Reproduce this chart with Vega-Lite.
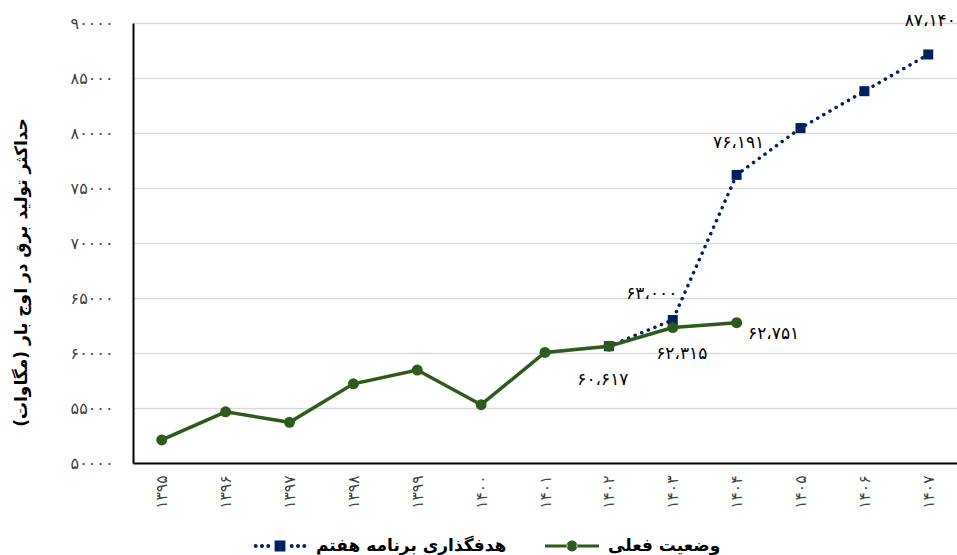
{
  "$schema": "https://vega.github.io/schema/vega-lite/v6.json",
  "width": 824,
  "height": 440,
  "autosize": {"type": "none"},
  "padding": {"left": 133, "top": 23, "right": 0, "bottom": 92},
  "config": {"font": "DejaVu Sans", "view": {"stroke": null}},
  "data": {
    "values": [
      {"year": "۱۳۹۵", "series": "وضعیت فعلی", "value": 52100, "label": ""},
      {"year": "۱۳۹۶", "series": "وضعیت فعلی", "value": 54650, "label": ""},
      {"year": "۱۳۹۷", "series": "وضعیت فعلی", "value": 53700, "label": ""},
      {"year": "۱۳۹۸", "series": "وضعیت فعلی", "value": 57200, "label": ""},
      {"year": "۱۳۹۹", "series": "وضعیت فعلی", "value": 58450, "label": ""},
      {"year": "۱۴۰۰", "series": "وضعیت فعلی", "value": 55300, "label": ""},
      {"year": "۱۴۰۱", "series": "وضعیت فعلی", "value": 60050, "label": ""},
      {"year": "۱۴۰۲", "series": "وضعیت فعلی", "value": 60617, "label": "۶۰،۶۱۷"},
      {"year": "۱۴۰۳", "series": "وضعیت فعلی", "value": 62315, "label": "۶۲،۳۱۵"},
      {"year": "۱۴۰۴", "series": "وضعیت فعلی", "value": 62751, "label": "۶۲،۷۵۱"},
      {"year": "۱۴۰۲", "series": "هدفگذاری برنامه هفتم", "value": 60617, "label": ""},
      {"year": "۱۴۰۳", "series": "هدفگذاری برنامه هفتم", "value": 63000, "label": "۶۳،۰۰۰"},
      {"year": "۱۴۰۴", "series": "هدفگذاری برنامه هفتم", "value": 76191, "label": "۷۶،۱۹۱"},
      {"year": "۱۴۰۵", "series": "هدفگذاری برنامه هفتم", "value": 80450, "label": ""},
      {"year": "۱۴۰۶", "series": "هدفگذاری برنامه هفتم", "value": 83800, "label": ""},
      {"year": "۱۴۰۷", "series": "هدفگذاری برنامه هفتم", "value": 87140, "label": "۸۷،۱۴۰"}
    ]
  },
  "encoding": {
    "x": {
      "field": "year",
      "type": "ordinal",
      "scale": {
        "type": "point",
        "padding": 0.45,
        "domain": ["۱۳۹۵", "۱۳۹۶", "۱۳۹۷", "۱۳۹۸", "۱۳۹۹", "۱۴۰۰", "۱۴۰۱", "۱۴۰۲", "۱۴۰۳", "۱۴۰۴", "۱۴۰۵", "۱۴۰۶", "۱۴۰۷"]
      },
      "axis": {
        "title": null,
        "labelAngle": -90,
        "labelFontSize": 15.5,
        "labelColor": "#404040",
        "ticks": false,
        "labelPadding": 12,
        "domainColor": "#000000",
        "domainWidth": 2,
        "grid": false
      }
    },
    "y": {
      "field": "value",
      "type": "quantitative",
      "scale": {"domain": [50000, 90000], "nice": false, "zero": false},
      "axis": {
        "title": "حداکثر تولید برق در اوج بار (مگاوات)",
        "titleFontSize": 17,
        "titleFontWeight": "bold",
        "titleColor": "#000000",
        "titleAngle": -90,
        "titleX": -112,
        "titleY": 249,
        "titleAlign": "center",
        "titleBaseline": "middle",
        "values": [50000, 55000, 60000, 65000, 70000, 75000, 80000, 85000, 90000],
        "format": "d",
        "labelExpr": "replace(replace(replace(replace(replace(replace(replace(replace(replace(replace(datum.label, regexp('0','g'), '۰'), regexp('1','g'), '۱'), regexp('2','g'), '۲'), regexp('3','g'), '۳'), regexp('4','g'), '۴'), regexp('5','g'), '۵'), regexp('6','g'), '۶'), regexp('7','g'), '۷'), regexp('8','g'), '۸'), regexp('9','g'), '۹')",
        "labelFontSize": 16,
        "labelColor": "#404040",
        "labelPadding": 20,
        "ticks": false,
        "grid": true,
        "gridColor": "#d9d9d9",
        "gridWidth": 1.5,
        "domainColor": "#000000",
        "domainWidth": 2
      }
    }
  },
  "layer": [
    {
      "transform": [{"filter": "datum.series === 'هدفگذاری برنامه هفتم'"}],
      "mark": {"type": "line", "strokeDash": [0.1, 7], "strokeCap": "round", "strokeWidth": 3.5},
      "encoding": {
        "color": {
          "field": "series",
          "type": "nominal",
          "scale": {"domain": ["هدفگذاری برنامه هفتم", "وضعیت فعلی"], "range": ["#002060", "#2F5A1E"]},
          "legend": {
            "title": null,
            "orient": "none",
            "legendX": 120,
            "legendY": 514,
            "direction": "horizontal",
            "padding": 0,
            "columnPadding": 38,
            "symbolSize": 324,
            "symbolOffset": 18,
            "labelOffset": 27,
            "labelFontSize": 17,
            "labelFontWeight": "bold",
            "labelColor": "#000000",
            "labelLimit": 400,
            "encode": {
              "symbols": {
                "update": {
                  "shape": {"signal": "datum.value === 'هدفگذاری برنامه هفتم' ? 'M-0.6,-0.6H0.6V0.6H-0.6Z M-2.92,0A0.22,0.22 0 1,0 -2.48,0A0.22,0.22 0 1,0 -2.92,0Z M-2.22,0A0.22,0.22 0 1,0 -1.78,0A0.22,0.22 0 1,0 -2.22,0Z M-1.52,0A0.22,0.22 0 1,0 -1.08,0A0.22,0.22 0 1,0 -1.52,0Z M1.08,0A0.22,0.22 0 1,0 1.52,0A0.22,0.22 0 1,0 1.08,0Z M1.78,0A0.22,0.22 0 1,0 2.22,0A0.22,0.22 0 1,0 1.78,0Z M2.48,0A0.22,0.22 0 1,0 2.92,0A0.22,0.22 0 1,0 2.48,0Z' : 'M-3,-0.18H-0.5V0.18H-3Z M0.5,-0.18H3V0.18H0.5Z M-0.6,0A0.6,0.6 0 1,0 0.6,0A0.6,0.6 0 1,0 -0.6,0Z'"},
                  "fill": {"signal": "datum.value === 'هدفگذاری برنامه هفتم' ? '#002060' : '#2F5A1E'"},
                  "stroke": {"value": "transparent"},
                  "strokeWidth": {"value": 0},
                  "strokeDash": {"value": []},
                  "opacity": {"value": 1},
                  "fillOpacity": {"value": 1}
                }
              }
            }
          }
        }
      }
    },
    {
      "transform": [{"filter": "datum.series === 'هدفگذاری برنامه هفتم'"}],
      "mark": {"type": "point", "shape": "square", "filled": true, "size": 100, "color": "#002060", "opacity": 1}
    },
    {
      "transform": [{"filter": "datum.series === 'وضعیت فعلی'"}],
      "mark": {"type": "line", "strokeWidth": 3.5},
      "encoding": {
        "color": {"field": "series", "type": "nominal"}
      }
    },
    {
      "transform": [{"filter": "datum.series === 'وضعیت فعلی'"}],
      "mark": {"type": "point", "shape": "circle", "filled": true, "size": 120, "color": "#2F5A1E", "opacity": 1}
    },
    {
      "transform": [{"filter": "datum.series === 'وضعیت فعلی' && datum.year === '۱۴۰۲'"}],
      "mark": {"type": "text", "dx": -6, "dy": 34, "fontSize": 17, "color": "#000000"},
      "encoding": {"text": {"field": "label"}}
    },
    {
      "transform": [{"filter": "datum.series === 'وضعیت فعلی' && datum.year === '۱۴۰۳'"}],
      "mark": {"type": "text", "dx": 9, "dy": 26, "fontSize": 17, "color": "#000000"},
      "encoding": {"text": {"field": "label"}}
    },
    {
      "transform": [{"filter": "datum.series === 'وضعیت فعلی' && datum.year === '۱۴۰۴'"}],
      "mark": {"type": "text", "dx": 37, "dy": 11, "fontSize": 17, "color": "#000000"},
      "encoding": {"text": {"field": "label"}}
    },
    {
      "transform": [{"filter": "datum.series === 'هدفگذاری برنامه هفتم' && datum.year === '۱۴۰۳'"}],
      "mark": {"type": "text", "dx": -21, "dy": -26, "fontSize": 17, "color": "#000000"},
      "encoding": {"text": {"field": "label"}}
    },
    {
      "transform": [{"filter": "datum.series === 'هدفگذاری برنامه هفتم' && datum.year === '۱۴۰۴'"}],
      "mark": {"type": "text", "dx": 2, "dy": -32, "fontSize": 17, "color": "#000000"},
      "encoding": {"text": {"field": "label"}}
    },
    {
      "transform": [{"filter": "datum.series === 'هدفگذاری برنامه هفتم' && datum.year === '۱۴۰۷'"}],
      "mark": {"type": "text", "dx": 2, "dy": -33, "fontSize": 17, "color": "#000000"},
      "encoding": {"text": {"field": "label"}}
    }
  ]
}
